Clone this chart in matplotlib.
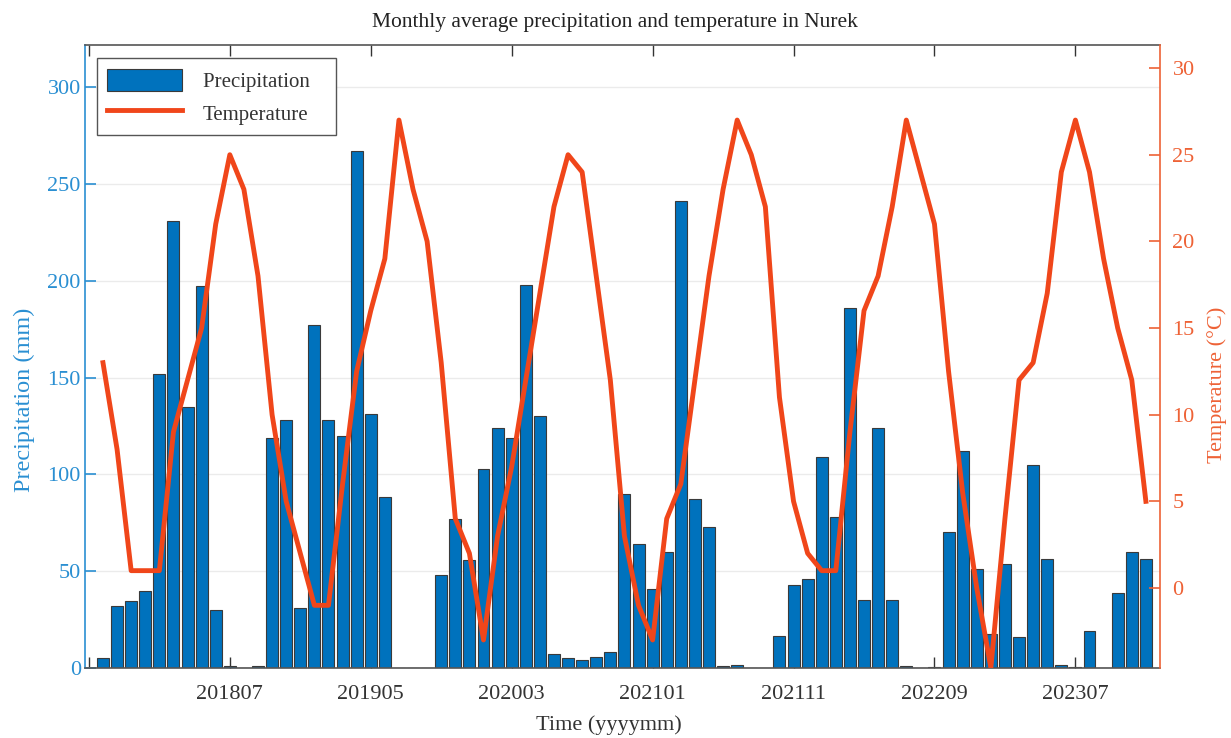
import matplotlib
matplotlib.use('Agg')
import matplotlib.pyplot as plt
import numpy as np

plt.rcParams['font.family'] = ['Liberation Serif', 'DejaVu Serif']

# months covered by the record (yyyymm)
months = [f"{y}{m:02d}" for y in range(2017, 2024) for m in range(1, 13)]
months = months[months.index("201710"):months.index("202312") + 1]

# monthly precipitation (mm)
precip = [5, 32, 34.5, 40, 152, 231, 135, 197, 30, 1, 0, 1,
          118.5, 128, 31, 177, 128, 120, 267, 131, 88.5, 0, 0, 0,
          48, 77, 55.5, 102.5, 124, 119, 198, 130, 7, 5, 4, 5.5,
          8, 90, 64, 41, 60, 241, 87, 73, 1, 1.5, 0, 0,
          16.5, 43, 46, 109, 78, 186, 35, 124, 35, 1, 0, 0.5,
          70, 112, 51, 17.5, 53.5, 16, 105, 56.5, 1.5, 0.5, 19, 0,
          38.5, 60, 56.5]

# monthly mean temperature (degC)
temp = [13, 8, 1, 1, 1, 9, 12, 15, 21, 25, 23, 18,
        10, 5, 2, -1, -1, 6, 12.5, 16, 19, 27, 23, 20,
        13, 4, 2, -3, 3, 7, 12, 17, 22, 25, 24, 18,
        12, 3, -1, -3, 4, 6, 12, 18, 23, 27, 25, 22,
        11, 5, 2, 1, 1, 9, 16, 18, 22, 27, 24, 21,
        12.5, 5.5, 0, -4.6, 4, 12, 13, 17, 24, 27, 24, 19,
        15, 12, 5]

tick_labels = ["201709", "201807", "201905", "202003", "202101", "202111", "202209", "202307"]

blue = '#0072BD'
blue_axis = '#2a8fd2'
orange_axis = '#EE6236'
line_col = '#F0461A'

fig = plt.figure(figsize=(12.31, 7.38), dpi=100)
ax = fig.add_axes([0.069, 0.0949, 0.8733, 0.8441])
ax2 = ax.twinx()

x = np.arange(len(months))
bars = ax.bar(x, precip, width=0.85, color=blue, edgecolor='#3a3a3a', linewidth=0.8,
              label='Precipitation', zorder=2)
line, = ax2.plot(x, temp, color=line_col, linewidth=3.5, label='Temperature', zorder=3)

# x axis: ticks every 10 months, first one left unlabeled
tick_pos = [x[0] - 1] + [months.index(t) for t in tick_labels[1:]]
ax.set_xticks(tick_pos)
ax.set_xticklabels([''] + tick_labels[1:])
ax.set_xlim(-1.28, 75.0)
ax.set_xlabel('Time (yyyymm)', fontsize=16, color='#333333')
ax.xaxis.set_label_coords(0.4874, -0.076)

ax.set_ylim(0, 321.7)
ax.set_yticks([0, 50, 100, 150, 200, 250, 300])
ax.set_ylabel('Precipitation (mm)', fontsize=17.5, color=blue_axis)
ax.yaxis.set_label_coords(-0.046, 0.43)
ax.yaxis.grid(True, color='#ebebeb', linewidth=1.0)
ax.set_axisbelow(True)

ax2.set_ylim(-4.615, 31.33)
ax2.set_yticks([0, 5, 10, 15, 20, 25, 30])
ax2.set_ylabel('Temperature (°C)', fontsize=16, color=orange_axis)
ax2.yaxis.set_label_coords(1.044, 0.455)

ax.tick_params(axis='x', direction='in', top=True, length=8, colors='#333333',
               labelsize=16, pad=12, width=1)
ax.tick_params(axis='y', direction='in', length=8, colors=blue_axis, labelsize=16,
               width=1.2, pad=3)
ax2.tick_params(axis='y', direction='in', length=8, colors=orange_axis, labelsize=16,
                width=1.2, pad=9)

for s in ['top', 'bottom']:
    ax.spines[s].set_color('#555555')
    ax2.spines[s].set_visible(False)
ax.spines['left'].set_color(blue_axis)
ax.spines['right'].set_visible(False)
ax2.spines['left'].set_visible(False)
ax2.spines['right'].set_color(orange_axis)
for s in ax.spines.values():
    s.set_linewidth(1.2)
ax2.spines['right'].set_linewidth(1.2)

ax.set_title('Monthly average precipitation and temperature in Nurek', fontsize=15.5,
             color='#222222', x=0.493, pad=13)

leg = ax2.legend([bars, line], ['Precipitation   ', 'Temperature'], loc='upper left',
                 bbox_to_anchor=(0.011, 0.979), borderaxespad=0, fontsize=15,
                 frameon=True, fancybox=False, edgecolor='#555555', framealpha=1,
                 handlelength=3.6, handleheight=1.3, borderpad=0.5, labelspacing=0.45,
                 handletextpad=1.0)
leg.get_frame().set_linewidth(1.0)
for t in leg.get_texts():
    t.set_color('#333333')

fig.savefig('out.png', dpi=100)
